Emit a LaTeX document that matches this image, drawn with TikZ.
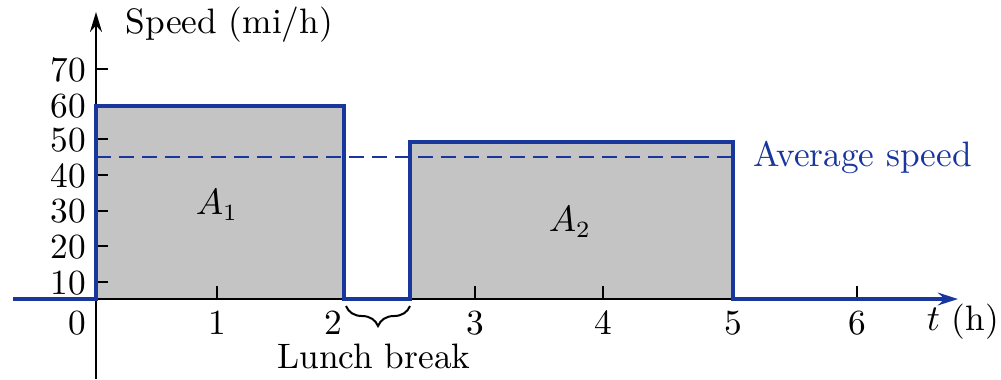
\documentclass[tikz,border=0pt]{standalone}
\usetikzlibrary{positioning,arrows.meta,decorations.pathreplacing}
\definecolor{speedblue}{RGB}{24,54,156}
\definecolor{areagray}{RGB}{196,196,196}

\begin{document}
\begin{tikzpicture}[x=0.3pt,y=-0.3pt,font=\fontsize{10.6}{12}\selectfont,
    axisline/.style={line width=0.75pt},
    ticks/.style={line width=0.6pt},
    profile/.style={speedblue,line width=1.25pt,line join=miter},
    average/.style={speedblue,line width=0.5pt,dash pattern=on 4.5pt off 2.4pt}]
    \useasboundingbox (0,0) rectangle (1001,379);

    % corners of the speed profile
    \coordinate (P0) at (13,299);
    \coordinate (P1) at (96,299);
    \coordinate (P2) at (96,106);
    \coordinate (P3) at (344,106);
    \coordinate (P4) at (344,299);
    \coordinate (P5) at (410,299);
    \coordinate (P6) at (410,142);
    \coordinate (P7) at (733,142);
    \coordinate (P8) at (733,299);
    \coordinate (P9) at (958,299);
    \coordinate (Ybot) at (96,379);
    \coordinate (Ytop) at (96,12);

    \fill[areagray] (P1) rectangle (P3);
    \fill[areagray] (P5) rectangle (P7);
    \draw[axisline] (P1) -- (P8);

    % ticks
    \draw[ticks] (96,69) -- ++(12,0);
    \draw[ticks] (96,139) -- ++(12,0);
    \draw[ticks] (96,175) -- ++(12,0);
    \draw[ticks] (96,211) -- ++(12,0);
    \draw[ticks] (96,246) -- ++(12,0);
    \draw[ticks] (96,282) -- ++(12,0);
    \draw[ticks] (217,299) -- ++(0,-13);
    \draw[ticks] (475,299) -- ++(0,-13);
    \draw[ticks] (603,299) -- ++(0,-13);
    \draw[ticks] (857,299) -- ++(0,-13);

    \draw[axisline,-{Stealth[length=6pt,width=3.6pt]}] (Ybot) -- (Ytop);

    % average speed
    \draw[average] (P2 |- 0,157) -- (P7 |- 0,157) coordinate (Aend);
    \node[speedblue,anchor=west] (avglabel) at (742,157) {Average speed};

    \draw[profile,-{Stealth[length=6pt,width=3.8pt]}]
        (P0) -- (P1) -- (P2) -- (P3) -- (P4) -- (P5) -- (P6) -- (P7) -- (P8) -- (P9);

    % labels
    \node[anchor=west] (speedlabel) at (114,25) {Speed (mi/h)};
    \node[anchor=east,inner sep=1pt] (y70) at (90,70) {70};
    \node[anchor=east,inner sep=1pt] (y60) at (90,106) {60};
    \node[anchor=east,inner sep=1pt] (y50) at (90,140) {50};
    \node[anchor=east,inner sep=1pt] (y40) at (90,176) {40};
    \node[anchor=east,inner sep=1pt] (y30) at (90,211) {30};
    \node[anchor=east,inner sep=1pt] (y20) at (90,247) {20};
    \node[anchor=east,inner sep=1pt] (y10) at (90,283) {10};
    \node (x0) at (77,323) {0};
    \node (x1) at (217,323) {1};
    \node (x2) at (333,323) {2};
    \node (x3) at (475,323) {3};
    \node (x4) at (603,323) {4};
    \node (x5) at (733,323) {5};
    \node (x6) at (857,323) {6};
    \node (tlabel) at (963,322) {$t$ (h)};
    \node (A1) at (217,205) {$A_1$};
    \node (A2) at (570,222) {$A_2$};

    % lunch break
    \draw[line width=0.6pt,decorate,decoration={brace,mirror,amplitude=6pt}]
        (346,306) -- (410,306);
    \node (lunchlabel) at (374,356) {Lunch break};
\end{tikzpicture}
\end{document}
